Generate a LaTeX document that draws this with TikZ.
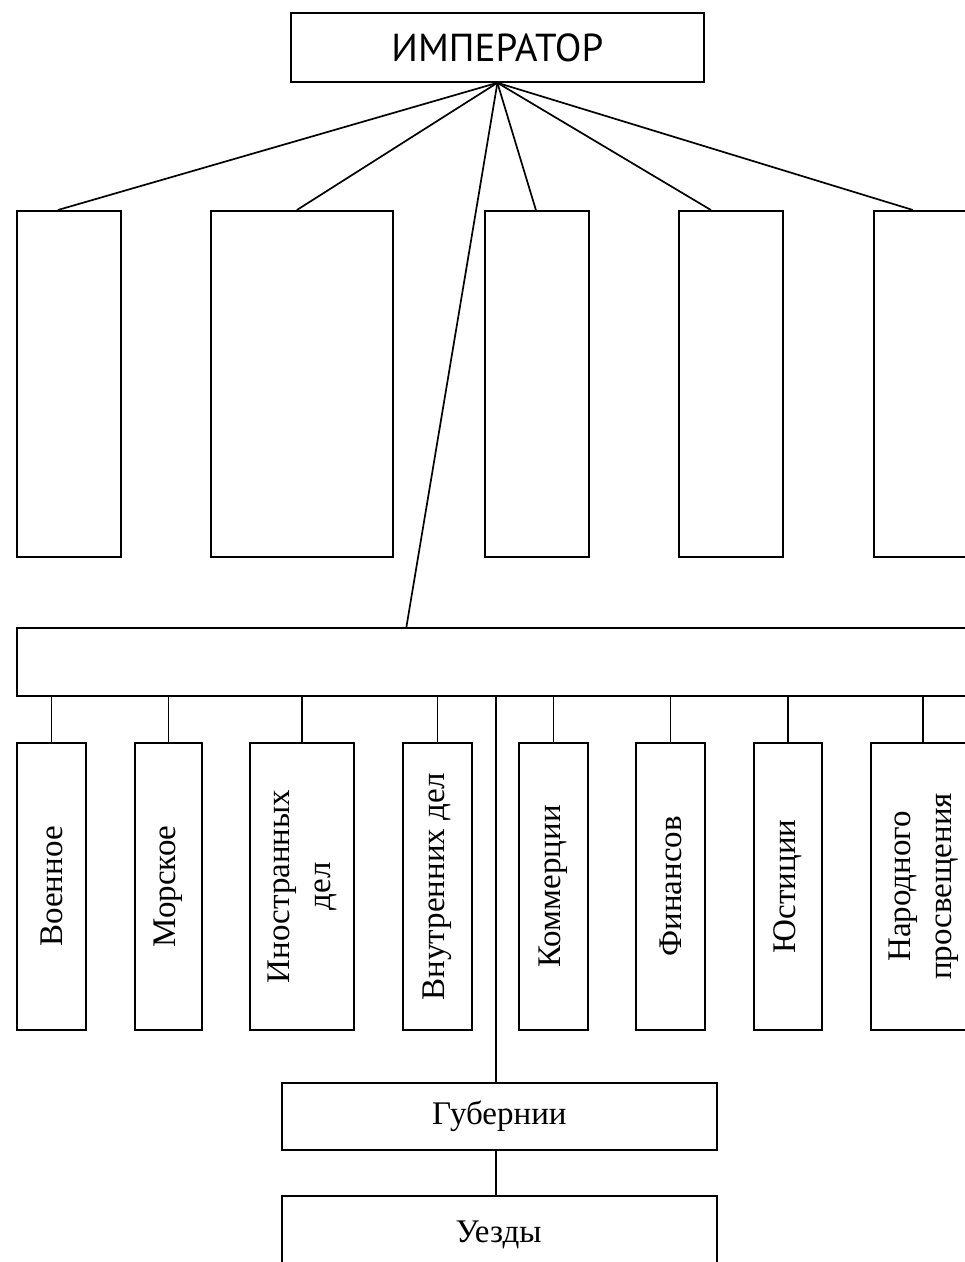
\documentclass[tikz,border=0pt]{standalone}
\usepackage{fontspec}
\setmainfont{Liberation Serif}
\newfontfamily\empfont{PT Sans}
\begin{document}
\begin{tikzpicture}[x=1pt,y=-1pt,
  box/.style={draw, line width=1.8pt, inner sep=0pt, anchor=north west, fill=white},
  conn/.style={line width=1.7pt},
  txt/.style={font=\fontsize{33}{38}\selectfont},
  txttwo/.style={font=\fontsize{33}{41}\selectfont}]
\useasboundingbox (0,0) rectangle (965,1262);
\clip (0,0) rectangle (965,1262);
% emperor
\node[box, minimum width=413, minimum height=69, font=\empfont\fontsize{39}{40}\selectfont] (emp) at (290,12) {ИМПЕРАТОР};
% top row of empty boxes
\node[box, minimum width=104, minimum height=346] (t1) at (16,210) {};
\node[box, minimum width=182, minimum height=346] (t2) at (210,210) {};
\node[box, minimum width=104, minimum height=346] (t3) at (484,210) {};
\node[box, minimum width=104, minimum height=346] (t4) at (678,210) {};
\node[box, minimum width=104, minimum height=346] (t5) at (873,210) {};
% wide box
\node[box, minimum width=990, minimum height=68] (wide) at (16,627) {};
% ministries
\node[box, txt, minimum width=69, minimum height=287] (m1) at (16,742) {\rotatebox{90}{Военное}};
\node[box, txt, minimum width=67, minimum height=287] (m2) at (134,742) {\rotatebox{90}{Морское}};
\node[box, txttwo, minimum width=104, minimum height=287] (m3) at (249,742) {\rotatebox{90}{\begin{tabular}{@{}c@{}}Иностранных\\дел\end{tabular}}};
\node[box, txt, minimum width=69, minimum height=287] (m4) at (402,742) {\rotatebox{90}{Внутренних дел}};
\node[box, txt, minimum width=69, minimum height=287] (m5) at (518,742) {\rotatebox{90}{Коммерции}};
\node[box, txt, minimum width=69, minimum height=287] (m6) at (635,742) {\rotatebox{90}{Финансов}};
\node[box, txt, minimum width=68, minimum height=287] (m7) at (753,742) {\rotatebox{90}{Юстиции}};
\node[box, txttwo, minimum width=104, minimum height=287] (m8) at (870,742) {\rotatebox{90}{\begin{tabular}{@{}c@{}}Народного\\просвещения\end{tabular}}};
% provinces
\node[box, txt, minimum width=435, minimum height=67] (gub) at (281,1082) {Губернии};
\node[box, minimum width=435, minimum height=80] (uez) at (281,1195) {};
\node[txt] (uezt) at (498.5,1235) {Уезды};
% connectors from emperor
\coordinate (apex) at (emp.south);
\draw[conn] (apex) -- ([xshift=-11pt]t1.north);
\draw[conn] (apex) -- ([xshift=-5pt]t2.north);
\draw[conn] (apex) -- ([xshift=-1pt]t3.north);
\draw[conn] (apex) -- ([xshift=-20pt]t4.north);
\draw[conn] (apex) -- ([xshift=-13pt]t5.north);
\draw[conn] (apex) -- ([xshift=-91pt]wide.north -| emp.south);
% ministries connectors
\foreach \m in {m1,m2,m3,m4,m5,m6,m7,m8}
  \draw[conn] (\m.north) -- (\m.north |- wide.south);
% to provinces
\draw[conn] ([xshift=-3.5pt]gub.north) -- ([xshift=-3.5pt]gub.north |- wide.south);
\draw[conn] ([xshift=-3.5pt]gub.south) -- ([xshift=-3.5pt]uez.north);
\end{tikzpicture}
\end{document}
